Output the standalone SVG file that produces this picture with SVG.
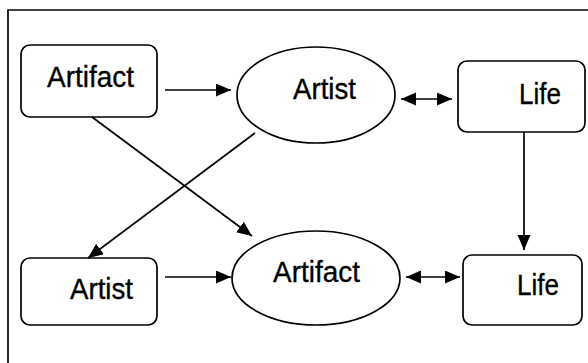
<svg xmlns="http://www.w3.org/2000/svg" width="588" height="363" viewBox="0 0 588 363">
<style>
.shape{fill:#fff;stroke:#000;stroke-width:1.7}
.lbl{font-family:"Liberation Sans",Arial,sans-serif;font-size:30px;fill:#000;stroke:#000;stroke-width:0.35}
.conn{stroke:#000;stroke-width:1.7;fill:none}
</style>
<defs>
<marker id="ah" markerUnits="userSpaceOnUse" markerWidth="16" markerHeight="14" refX="15" refY="6.5" orient="auto-start-reverse" viewBox="0 0 16 14">
<path d="M0,0 L15,6.5 L0,13 z" fill="#000"/>
</marker>
</defs>
<rect width="588" height="363" fill="#fff"/>
<path d="M8,363 L8,10 L588,10" fill="none" stroke="#000" stroke-width="1.7"/>
<g id="artifact1">
<rect class="shape" x="21" y="45" width="136" height="72" rx="9"/>
<text class="lbl" x="47" y="87" textLength="87" lengthAdjust="spacingAndGlyphs">Artifact</text>
</g>
<g id="artist1">
<ellipse class="shape" cx="316" cy="95" rx="79" ry="48"/>
<text class="lbl" x="293" y="99" textLength="63" lengthAdjust="spacingAndGlyphs">Artist</text>
</g>
<g id="life1">
<rect class="shape" x="458" y="61" width="127" height="71" rx="9"/>
<text class="lbl" x="519" y="104" textLength="42" lengthAdjust="spacingAndGlyphs">Life</text>
</g>
<g id="artist2">
<rect class="shape" x="21" y="258" width="136" height="67" rx="9"/>
<text class="lbl" x="70" y="299" textLength="63" lengthAdjust="spacingAndGlyphs">Artist</text>
</g>
<g id="artifact2">
<ellipse class="shape" cx="316" cy="278" rx="84" ry="47"/>
<text class="lbl" x="273" y="282" textLength="87" lengthAdjust="spacingAndGlyphs">Artifact</text>
</g>
<g id="life2">
<rect class="shape" x="463" y="255" width="119" height="70" rx="9"/>
<text class="lbl" x="517" y="295" textLength="42" lengthAdjust="spacingAndGlyphs">Life</text>
</g>
<g id="connectors">
<line class="conn" x1="165" y1="90" x2="231" y2="90" marker-end="url(#ah)"/>
<line class="conn" x1="401" y1="99" x2="452" y2="99" marker-start="url(#ah)" marker-end="url(#ah)"/>
<line class="conn" x1="524" y1="132" x2="524" y2="250" marker-end="url(#ah)"/>
<line class="conn" x1="92" y1="117" x2="252" y2="236" marker-end="url(#ah)"/>
<line class="conn" x1="255" y1="133" x2="88" y2="258" marker-end="url(#ah)"/>
<line class="conn" x1="165" y1="277" x2="231" y2="277" marker-end="url(#ah)"/>
<line class="conn" x1="406" y1="277" x2="460" y2="277" marker-start="url(#ah)" marker-end="url(#ah)"/>
</g>
</svg>
